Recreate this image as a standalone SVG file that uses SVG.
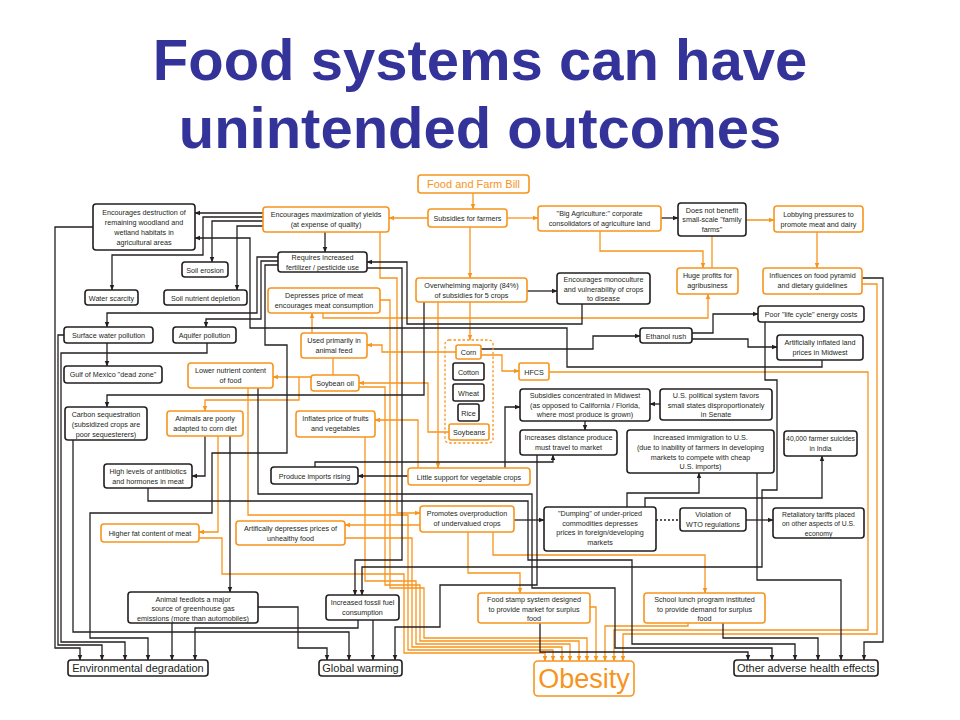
<svg xmlns="http://www.w3.org/2000/svg" width="960" height="720" viewBox="0 0 960 720">
<defs>
<marker id="ab" viewBox="0 0 10 10" refX="9" refY="5" markerWidth="6" markerHeight="6" markerUnits="userSpaceOnUse" orient="auto"><path d="M0,1 L10,5 L0,9 z" fill="#231f20"/></marker>
<marker id="ao" viewBox="0 0 10 10" refX="9" refY="5" markerWidth="6" markerHeight="6" markerUnits="userSpaceOnUse" orient="auto"><path d="M0,1 L10,5 L0,9 z" fill="#f7941d"/></marker>
<style>
.title{font-family:"Liberation Sans",Arial,sans-serif;font-weight:bold;font-size:58px;fill:#333399;text-anchor:middle}
.bk{fill:#fff;stroke:#231f20;stroke-width:1.6}
.or{fill:#fff;stroke:#f7941d;stroke-width:1.6}
.dg{fill:none;stroke:#f7941d;stroke-width:1.3;stroke-dasharray:2.5,2}
.t{font-family:"Liberation Sans",Arial,sans-serif;font-size:7.2px;fill:#231f20;text-anchor:middle}
.s{font-size:6.8px}
.big{font-family:"Liberation Sans",Arial,sans-serif;font-size:11px;fill:#231f20;text-anchor:middle}
.ot{fill:#f7941d}
.lb{fill:none;stroke:#231f20;stroke-width:1.3;marker-end:url(#ab)}
.lo{fill:none;stroke:#f7941d;stroke-width:1.3;marker-end:url(#ao)}
.dot{fill:none;stroke:#231f20;stroke-width:1.3;stroke-dasharray:2,2}
</style>
</defs>
<rect width="960" height="720" fill="#fff"/>
<text class="title" x="480" y="80">Food systems can have</text>
<text class="title" x="480" y="148">unintended outcomes</text>

<g id="connectors">
<path class="lo" d="M473,193 V209"/>
<path class="lo" d="M428,218 H389"/>
<path class="lo" d="M507,218 H538"/>
<path class="lo" d="M470,227 V278"/>
<path class="lo" d="M600,231 V251 H703 V268"/>
<path class="lo" d="M712,268 V220 H774"/>
<path class="lo" d="M817,232 V268"/>
<path class="lo" d="M470,302 V340"/>
<path class="lo" d="M456,352 H382 V345 H367"/>
<path class="lo" d="M481,355 H502 V371 H519"/>
<path class="lo" d="M312,333 V313"/>
<path class="lo" d="M333,358 V377 H273"/>
<path class="lo" d="M299,377 V400 H205 V411"/>
<path class="lo" d="M323,313 V318 H708 V294"/>
<path class="lo" d="M380,232 V278 H397 V513 H420"/>
<path class="lo" d="M438,302 V468"/>
<path class="lo" d="M449,432 H428 V383 H359"/>
<path class="lo" d="M418,468 V420 H375"/>
<path class="lo" d="M420,525 H345"/>
<path class="lo" d="M468,532 V573 H520 V593"/>
<path class="lo" d="M493,532 V555 H705 V593"/>
<path class="lo" d="M218,436 V532 H199"/>
<path class="lo" d="M199,538 H222 V574 H404 V653 H545 V661"/>
<path class="lo" d="M248,388 V515 H408 V650 H553 V661"/>
<path class="lo" d="M345,538 H412 V647 H562 V661"/>
<path class="lo" d="M365,437 V581 H416 V644 H570 V661"/>
<path class="lo" d="M359,387 H385 V585 H420 V641 H579 V661"/>
<path class="lo" d="M380,300 H390 V588 H424 V638 H587 V661"/>
<path class="lo" d="M590,607 H596 V661"/>
<path class="lo" d="M688,623 V626 H605 V661"/>
<path class="lo" d="M549,372 H868 V630 H614 V661"/>
<path class="lo" d="M862,284 H877 V634 H623 V661"/>
<path class="lb" d="M263,213 H195"/>
<path class="lb" d="M263,217 H203 V255 H112 V290"/>
<path class="lb" d="M263,221 H212 V262"/>
<path class="lb" d="M263,226 H237 V290"/>
<path class="lb" d="M822,360 V367 H567 V328 H250 V238 H195"/>
<path class="lb" d="M325,232 V252"/>
<path class="lb" d="M278,257 H257 V313 H107 V327"/>
<path class="lb" d="M278,261 H261 V319 H206 V327"/>
<path class="lb" d="M278,265 H265 V345 H287 V453 H212 V513 H90 V638 H148 V660"/>
<path class="lb" d="M367,268 H402 V560 H355 V595"/>
<path class="lb" d="M107,343 V366"/>
<path class="lb" d="M64,335 H58 V645 H102 V660"/>
<path class="lb" d="M93,227 H55 V648 H80 V660"/>
<path class="lb" d="M207,343 V353 H61 V642 H125 V660"/>
<path class="lb" d="M424,302 V395 H107 V407"/>
<path class="lb" d="M205,436 V476 H192"/>
<path class="lb" d="M230,436 V592"/>
<path class="lb" d="M148,488 V501 H528 V560 H632 V644 H795 V660"/>
<path class="lb" d="M258,388 V494 H532 V588 H615 V648 H772 V660"/>
<path class="lb" d="M540,623 V652 H748 V660"/>
<path class="lb" d="M723,623 V638 H818 V660"/>
<path class="lb" d="M862,278 H883 V642 H864 V660"/>
<path class="lb" d="M757,473 V580 H841 V660"/>
<path class="lb" d="M527,291 H557"/>
<path class="lb" d="M661,218 H678"/>
<path class="lb" d="M481,349 H593 V336 H640"/>
<path class="lb" d="M692,333 H713 V314 H758"/>
<path class="lb" d="M692,339 H748 V347 H777"/>
<path class="lb" d="M582,304 V324 H407 V262 H367"/>
<path class="lb" d="M765,322 V380 H777 V490 H762 V567 H362 V595"/>
<path class="lb" d="M585,421 V430"/>
<path class="lb" d="M660,404 H650"/>
<path class="lb" d="M505,468 V407 H520"/>
<path class="lb" d="M408,476 H358"/>
<path class="lb" d="M315,467 V462 H553 V455"/>
<path class="lb" d="M514,520 H544"/>
<path class="lb" d="M627,507 V493 H699 V473"/>
<path class="lb" d="M645,507 V498 H822 V456"/>
<path class="dot" d="M656,520 H680"/>
<path class="lb" d="M746,520 H773"/>
<path class="lb" d="M537,455 V585 H440 V627 H395 V660"/>
<path class="lb" d="M172,623 V660"/>
<path class="lb" d="M258,607 H298 V648 H327 V660"/>
<path class="lb" d="M373,620 V660"/>
<path class="lb" d="M358,620 V628 H195 V660"/>
<path class="lb" d="M73,440 V632 H349 V660"/>
</g>

<g id="n-bill"><rect class="or" x="418" y="175" width="111" height="18" rx="3"/><text class="big ot" x="473.5" y="188">Food and Farm Bill</text></g>
<g id="n-subs"><rect class="or" x="428" y="209" width="79" height="18" rx="3"/><text class="t" x="467.5" y="220.5">Subsidies for farmers</text></g>
<g id="n-max"><rect class="or" x="263" y="207" width="126" height="25" rx="3"/><text class="t"><tspan x="326" y="217">Encourages maximization of yields</tspan><tspan x="326" y="227">(at expense of quality)</tspan></text></g>
<g id="n-destr"><rect class="bk" x="93" y="204" width="102" height="46" rx="3"/><text class="t"><tspan x="144" y="215">Encourages destruction of</tspan><tspan x="144" y="225">remaining woodland and</tspan><tspan x="144" y="235">wetland habitats in</tspan><tspan x="144" y="245">agricultural areas</tspan></text></g>
<g id="n-erosion"><rect class="bk" x="182" y="262" width="46" height="15" rx="3"/><text class="t" x="205" y="272.5">Soil erosion</text></g>
<g id="n-fert"><rect class="bk" x="278" y="252" width="89" height="20" rx="3"/><text class="t"><tspan x="322.5" y="260">Requires increased</tspan><tspan x="322.5" y="269.5">fertilizer / pesticide use</tspan></text></g>
<g id="n-water"><rect class="bk" x="85" y="290" width="53" height="15" rx="3"/><text class="t" x="111.5" y="300.5">Water scarcity</text></g>
<g id="n-nutrient"><rect class="bk" x="164" y="290" width="83" height="15" rx="3"/><text class="t" x="205.5" y="300.5">Soil nutrient depletion</text></g>
<g id="n-meat"><rect class="or" x="268" y="288" width="112" height="25" rx="3"/><text class="t"><tspan x="324" y="298">Depresses price of meat</tspan><tspan x="324" y="308">encourages meat consumption</tspan></text></g>
<g id="n-bigag"><rect class="or" x="538" y="206" width="123" height="25" rx="3"/><text class="t"><tspan x="599.5" y="216">"Big Agriculture:" corporate</tspan><tspan x="599.5" y="226">consolidators of agriculture land</tspan></text></g>
<g id="n-notbenefit"><rect class="bk" x="678" y="203" width="68" height="33" rx="3"/><text class="t"><tspan x="712" y="212.5">Does not benefit</tspan><tspan x="712" y="222">small-scale "family</tspan><tspan x="712" y="231.5">farms"</tspan></text></g>
<g id="n-lobby"><rect class="or" x="774" y="206" width="89" height="26" rx="3"/><text class="t"><tspan x="818.5" y="216.5">Lobbying pressures to</tspan><tspan x="818.5" y="226.5">promote meat and dairy</tspan></text></g>
<g id="n-profits"><rect class="or" x="677" y="268" width="61" height="26" rx="3"/><text class="t"><tspan x="707.5" y="278">Huge profits for</tspan><tspan x="707.5" y="288">agribusiness</tspan></text></g>
<g id="n-influences"><rect class="or" x="763" y="268" width="99" height="26" rx="3"/><text class="t"><tspan x="812.5" y="278">Influences on food pyramid</tspan><tspan x="812.5" y="288">and dietary guidelines</tspan></text></g>
<g id="n-five"><rect class="or" x="416" y="278" width="111" height="24" rx="3"/><text class="t"><tspan x="471.5" y="287.5">Overwhelming majority (84%)</tspan><tspan x="471.5" y="297.5">of subsidies for 5 crops</tspan></text></g>
<g id="n-mono"><rect class="bk" x="557" y="273" width="93" height="31" rx="3"/><text class="t"><tspan x="603.5" y="282">Encourages monoculture</tspan><tspan x="603.5" y="291.5">and vulnerability of crops</tspan><tspan x="603.5" y="301">to disease</tspan></text></g>
<g id="n-lifecycle"><rect class="bk" x="758" y="306" width="106" height="16" rx="3"/><text class="t" x="811" y="316.5">Poor "life cycle" energy costs</text></g>
<g id="n-ethanol"><rect class="bk" x="640" y="328" width="52" height="15" rx="3"/><text class="t" x="666" y="338.5">Ethanol rush</text></g>
<g id="n-land"><rect class="bk" x="777" y="335" width="86" height="25" rx="3"/><text class="t"><tspan x="820" y="345">Artificially inflated land</tspan><tspan x="820" y="355">prices in Midwest</tspan></text></g>
<g id="n-surface"><rect class="bk" x="64" y="327" width="89" height="16" rx="3"/><text class="t" x="108.5" y="337.5">Surface water pollution</text></g>
<g id="n-aquifer"><rect class="bk" x="173" y="327" width="63" height="16" rx="3"/><text class="t" x="204.5" y="337.5">Aquifer pollution</text></g>
<g id="n-gulf"><rect class="bk" x="64" y="366" width="98" height="17" rx="3"/><text class="t" x="113" y="377">Gulf of Mexico "dead zone"</text></g>
<g id="n-used"><rect class="or" x="301" y="333" width="66" height="25" rx="3"/><text class="t"><tspan x="334" y="343">Used primarily in</tspan><tspan x="334" y="353">animal feed</tspan></text></g>
<g id="n-lower"><rect class="or" x="188" y="363" width="85" height="25" rx="3"/><text class="t"><tspan x="230.5" y="373">Lower nutrient content</tspan><tspan x="230.5" y="383">of food</tspan></text></g>
<g id="n-crops"><rect class="dg" x="445" y="340" width="48" height="103" rx="4"/>
<g id="n-corn"><rect class="or" x="456" y="345" width="25" height="14" rx="2"/><text class="t" x="468.5" y="355">Corn</text></g>
<g id="n-cotton"><rect class="bk" x="453" y="363" width="31" height="17" rx="2"/><text class="t" x="468.5" y="374.5">Cotton</text></g>
<g id="n-wheat"><rect class="bk" x="453" y="384" width="31" height="17" rx="2"/><text class="t" x="468.5" y="395.5">Wheat</text></g>
<g id="n-rice"><rect class="bk" x="458" y="404" width="21" height="17" rx="2"/><text class="t" x="468.5" y="415.5">Rice</text></g>
<g id="n-soy"><rect class="or" x="449" y="424" width="40" height="16" rx="2"/><text class="t" x="469" y="435">Soybeans</text></g>
</g>
<g id="n-hfcs"><rect class="or" x="519" y="363" width="30" height="17" rx="2"/><text class="t" x="534" y="374.5">HFCS</text></g>
<g id="n-soyoil"><rect class="or" x="311" y="375" width="48" height="16" rx="3"/><text class="t" x="335" y="386">Soybean oil</text></g>
<g id="n-carbon"><rect class="bk" x="65" y="407" width="82" height="33" rx="3"/><text class="t"><tspan x="106" y="417">Carbon sequestration</tspan><tspan x="106" y="427">(subsidized crops are</tspan><tspan x="106" y="437">poor sequesterers)</tspan></text></g>
<g id="n-animals"><rect class="or" x="167" y="411" width="76" height="25" rx="3"/><text class="t"><tspan x="205" y="421">Animals are poorly</tspan><tspan x="205" y="431">adapted to corn diet</tspan></text></g>
<g id="n-inflates"><rect class="or" x="296" y="411" width="79" height="26" rx="3"/><text class="t"><tspan x="335.5" y="421">Inflates price of fruits</tspan><tspan x="335.5" y="431">and vegetables</tspan></text></g>
<g id="n-midwest"><rect class="bk" x="520" y="389" width="130" height="32" rx="3"/><text class="t"><tspan x="585" y="398">Subsidies concentrated in Midwest</tspan><tspan x="585" y="407.5">(as opposed to California / Florida,</tspan><tspan x="585" y="417">where most produce is grown)</tspan></text></g>
<g id="n-senate"><rect class="bk" x="660" y="389" width="112" height="31" rx="3"/><text class="t"><tspan x="716" y="398">U.S. political system  favors</tspan><tspan x="716" y="407.5">small states disproportionately</tspan><tspan x="716" y="417">in Senate</tspan></text></g>
<g id="n-distance"><rect class="bk" x="520" y="430" width="97" height="25" rx="3"/><text class="t"><tspan x="568.5" y="440">Increases distance produce</tspan><tspan x="568.5" y="450">must travel to market</tspan></text></g>
<g id="n-immig"><rect class="bk" x="627" y="430" width="147" height="43" rx="3"/><text class="t"><tspan x="700.5" y="439.5">Increased immigration to U.S.</tspan><tspan x="700.5" y="449.5">(due to inability of farmers in developing</tspan><tspan x="700.5" y="459.5">markets to compete with cheap</tspan><tspan x="700.5" y="469">U.S. imports)</tspan></text></g>
<g id="n-suicides"><rect class="bk" x="784" y="431" width="73" height="25" rx="3"/><text class="t s"><tspan x="820.5" y="441">40,000 farmer suicides</tspan><tspan x="820.5" y="451">in India</tspan></text></g>
<g id="n-antib"><rect class="bk" x="104" y="464" width="88" height="24" rx="3"/><text class="t"><tspan x="148" y="474">High levels of antibiotics</tspan><tspan x="148" y="484">and hormones in meat</tspan></text></g>
<g id="n-imports"><rect class="bk" x="271" y="467" width="87" height="17" rx="3"/><text class="t" x="314.5" y="478.5">Produce imports rising</text></g>
<g id="n-little"><rect class="or" x="408" y="468" width="122" height="17" rx="3"/><text class="t" x="469" y="479.5">Little support for vegetable crops</text></g>
<g id="n-promotes"><rect class="or" x="420" y="506" width="94" height="26" rx="3"/><text class="t"><tspan x="467" y="516">Promotes overproduction</tspan><tspan x="467" y="526">of undervalued crops</tspan></text></g>
<g id="n-dumping"><rect class="bk" x="544" y="507" width="112" height="44" rx="3"/><text class="t"><tspan x="600" y="516">"Dumping" of under-priced</tspan><tspan x="600" y="525.5">commodities depresses</tspan><tspan x="600" y="535">prices in foreign/developing</tspan><tspan x="600" y="545">markets</tspan></text></g>
<g id="n-wto"><rect class="bk" x="680" y="508" width="66" height="23" rx="3"/><text class="t"><tspan x="713" y="517">Violation of</tspan><tspan x="713" y="527">WTO regulations</tspan></text></g>
<g id="n-tariffs"><rect class="bk" x="773" y="508" width="91" height="30" rx="3"/><text class="t s"><tspan x="818.5" y="516.5">Retaliatory tariffs placed</tspan><tspan x="818.5" y="526">on other aspects of U.S.</tspan><tspan x="818.5" y="535.5">economy</tspan></text></g>
<g id="n-fat"><rect class="or" x="101" y="524" width="98" height="18" rx="3"/><text class="t" x="150" y="536">Higher fat content of meat</text></g>
<g id="n-artif"><rect class="or" x="236" y="521" width="109" height="24" rx="3"/><text class="t"><tspan x="290.5" y="531">Artifically depresses prices of</tspan><tspan x="290.5" y="541">unhealthy food</tspan></text></g>
<g id="n-feedlots"><rect class="bk" x="128" y="592" width="130" height="31" rx="3"/><text class="t"><tspan x="193" y="601.5">Animal feedlots a major</tspan><tspan x="193" y="611">source of greenhouse gas</tspan><tspan x="193" y="620.5">emissions (more than automobiles)</tspan></text></g>
<g id="n-fossil"><rect class="bk" x="326" y="595" width="73" height="25" rx="3"/><text class="t"><tspan x="362.5" y="605">Increased fossil fuel</tspan><tspan x="362.5" y="615">consumption</tspan></text></g>
<g id="n-foodstamp"><rect class="or" x="478" y="593" width="112" height="30" rx="3"/><text class="t"><tspan x="534" y="602">Food stamp system designed</tspan><tspan x="534" y="611.5">to provide market for surplus</tspan><tspan x="534" y="621">food</tspan></text></g>
<g id="n-lunch"><rect class="or" x="644" y="593" width="121" height="30" rx="3"/><text class="t"><tspan x="704.5" y="602">School lunch program instituted</tspan><tspan x="704.5" y="611.5">to provide demand for surplus</tspan><tspan x="704.5" y="621">food</tspan></text></g>
<g id="n-env"><rect class="bk" x="68" y="660" width="140" height="16" rx="3"/><text class="big" x="138" y="672">Environmental degradation</text></g>
<g id="n-gw"><rect class="bk" x="319" y="660" width="83" height="16" rx="3"/><text class="big" x="360.5" y="672">Global warming</text></g>
<g id="n-obesity"><rect class="or" x="534" y="661" width="100" height="35" rx="4"/><text class="big ot" x="584" y="688" style="font-size:27px">Obesity</text></g>
<g id="n-other"><rect class="bk" x="734" y="660" width="144" height="16" rx="3"/><text class="big" x="806" y="672">Other adverse health effects</text></g>
</svg>
